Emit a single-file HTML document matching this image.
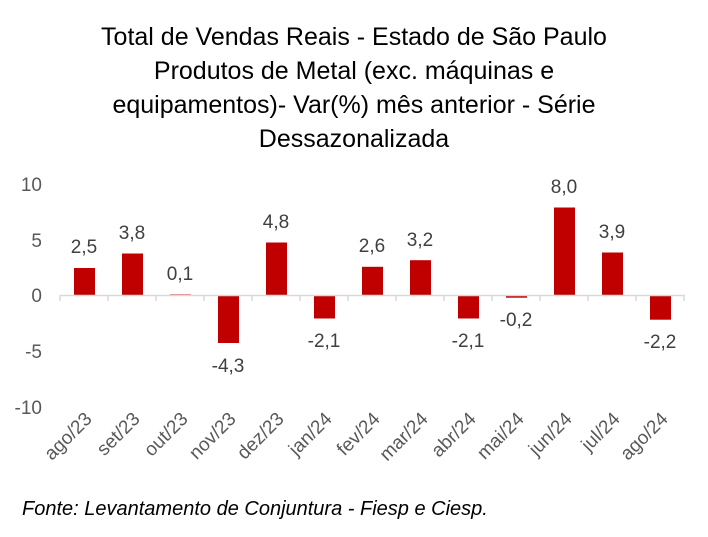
<!DOCTYPE html>
<html><head><meta charset="utf-8"><style>
body{margin:0;background:#fff;}
svg{display:block;font-family:"Liberation Sans","DejaVu Sans",sans-serif;}
</style></head><body>
<svg width="708" height="537" viewBox="0 0 708 537" xmlns="http://www.w3.org/2000/svg">
<rect width="708" height="537" fill="#fff"/>
<g font-size="25" fill="#000" text-anchor="middle">
<text x="354" y="45">Total de Vendas Reais - Estado de São Paulo</text>
<text x="354" y="79">Produtos de Metal (exc. máquinas e</text>
<text x="354" y="113">equipamentos)- Var(%) mês anterior - Série</text>
<text x="354" y="147">Dessazonalizada</text>
</g>
<g font-size="19" fill="#595959" text-anchor="end">
<text x="42" y="191">10</text>
<text x="42" y="247">5</text>
<text x="42" y="302">0</text>
<text x="42" y="358">-5</text>
<text x="42" y="414">-10</text>
</g>
<g fill="#C00000">
<rect x="74" y="268" width="21" height="27.5"/>
<rect x="122" y="253.5" width="21" height="42"/>
<rect x="170" y="294.4" width="21" height="1.1"/>
<rect x="218" y="295.5" width="21" height="47.5"/>
<rect x="266" y="242.5" width="21" height="53"/>
<rect x="314" y="295.5" width="21" height="23"/>
<rect x="362" y="266.8" width="21" height="28.7"/>
<rect x="410" y="260.2" width="21" height="35.3"/>
<rect x="458" y="295.5" width="21" height="23"/>
<rect x="506" y="295.5" width="21" height="2.2"/>
<rect x="554" y="207.5" width="21" height="88"/>
<rect x="602" y="252.5" width="21" height="43"/>
<rect x="650" y="295.5" width="21" height="24.2"/>
</g>
<g stroke="#d9d9d9" stroke-width="1.5">
<line x1="60" y1="295.5" x2="685" y2="295.5"/>
<line x1="60" y1="295" x2="60" y2="301"/><line x1="108" y1="295" x2="108" y2="301"/><line x1="156" y1="295" x2="156" y2="301"/><line x1="204" y1="295" x2="204" y2="301"/><line x1="252" y1="295" x2="252" y2="301"/><line x1="300" y1="295" x2="300" y2="301"/><line x1="348" y1="295" x2="348" y2="301"/><line x1="396" y1="295" x2="396" y2="301"/><line x1="444" y1="295" x2="444" y2="301"/><line x1="492" y1="295" x2="492" y2="301"/><line x1="540" y1="295" x2="540" y2="301"/><line x1="588" y1="295" x2="588" y2="301"/><line x1="636" y1="295" x2="636" y2="301"/><line x1="684" y1="295" x2="684" y2="301"/>
</g>
<g font-size="19" fill="#404040" text-anchor="middle">
<text x="84" y="253">2,5</text>
<text x="132" y="239">3,8</text>
<text x="180" y="280">0,1</text>
<text x="228" y="372">-4,3</text>
<text x="276" y="228">4,8</text>
<text x="324" y="347">-2,1</text>
<text x="372" y="252">2,6</text>
<text x="420" y="246">3,2</text>
<text x="468" y="347">-2,1</text>
<text x="516" y="326">-0,2</text>
<text x="564" y="193">8,0</text>
<text x="612" y="238">3,9</text>
<text x="660" y="348">-2,2</text>
</g>
<g font-size="19" fill="#595959" text-anchor="end">
<text transform="translate(93,420) rotate(-45)">ago/23</text>
<text transform="translate(141,420) rotate(-45)">set/23</text>
<text transform="translate(189,420) rotate(-45)">out/23</text>
<text transform="translate(237,420) rotate(-45)">nov/23</text>
<text transform="translate(285,420) rotate(-45)">dez/23</text>
<text transform="translate(333,420) rotate(-45)">jan/24</text>
<text transform="translate(381,420) rotate(-45)">fev/24</text>
<text transform="translate(429,420) rotate(-45)">mar/24</text>
<text transform="translate(477,420) rotate(-45)">abr/24</text>
<text transform="translate(525,420) rotate(-45)">mai/24</text>
<text transform="translate(573,420) rotate(-45)">jun/24</text>
<text transform="translate(621,420) rotate(-45)">jul/24</text>
<text transform="translate(669,420) rotate(-45)">ago/24</text>
</g>
<text x="22" y="515" font-size="20" font-style="italic" fill="#000">Fonte: Levantamento de Conjuntura - Fiesp e Ciesp.</text>
</svg>
</body></html>
